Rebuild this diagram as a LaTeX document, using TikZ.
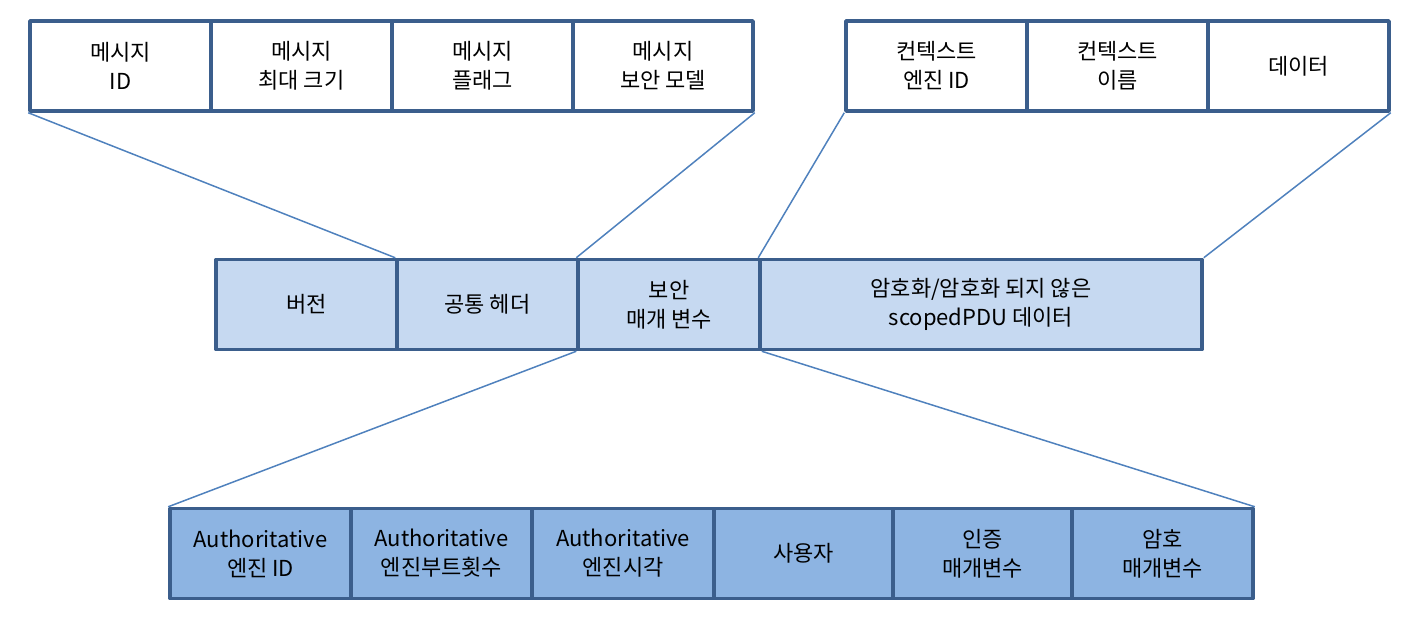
\documentclass[tikz,border=0pt]{standalone}
\usepackage{fontspec}
\setmainfont{Noto Sans CJK KR}
\definecolor{bord}{HTML}{3B5E8C}
\definecolor{conn}{HTML}{4F81BD}
\definecolor{midfill}{HTML}{C6D9F1}
\definecolor{botfill}{HTML}{8DB4E2}
\begin{document}
\begin{tikzpicture}[x=1pt,y=-1pt,
  fbox/.style={draw=bord, line width=3.5pt, minimum height=90pt, inner sep=0pt, align=center,
    font=\fontsize{22}{29}\selectfont, line join=round},
  topbox/.style={fbox, fill=white},
  midbox/.style={fbox, fill=midfill},
  botbox/.style={fbox, fill=botfill},
  conline/.style={draw=conn, line width=1.5pt}]
\useasboundingbox (0,0) rectangle (1411,633);
% top-left group
\node[topbox, minimum width=181pt] (t1) at (120.5,66) {메시지\\ID};
\node[topbox, minimum width=181pt] (t2) at (301.5,66) {메시지\\최대 크기};
\node[topbox, minimum width=181pt] (t3) at (482.5,66) {메시지\\플래그};
\node[topbox, minimum width=180pt] (t4) at (663,66) {메시지\\보안 모델};
% top-right group
\node[topbox, minimum width=181pt] (r1) at (936.5,66) {컨텍스트\\엔진 ID};
\node[topbox, minimum width=181pt] (r2) at (1117.5,66) {컨텍스트\\이름};
\node[topbox, minimum width=181pt] (r3) at (1298.5,66) {데이터};
% middle row
\node[midbox, minimum width=181pt] (m1) at (306.5,304.5) {버전};
\node[midbox, minimum width=181pt] (m2) at (487.5,304.5) {공통 헤더};
\node[midbox, minimum width=182pt] (m3) at (669,304.5) {보안\\매개 변수};
\node[midbox, minimum width=442pt] (m4) at (981,304.5) {암호화/암호화 되지 않은\\scopedPDU 데이터};
% bottom row
\node[botbox, minimum width=181pt] (b1) at (260.5,553.5) {Authoritative\\엔진 ID};
\node[botbox, minimum width=181pt] (b2) at (441.5,553.5) {Authoritative\\엔진부트횟수};
\node[botbox, minimum width=182pt] (b3) at (623,553.5) {Authoritative\\엔진시각};
\node[botbox, minimum width=179pt] (b4) at (803.5,553.5) {사용자};
\node[botbox, minimum width=179pt] (b5) at (982.5,553.5) {인증\\매개변수};
\node[botbox, minimum width=181pt] (b6) at (1162.5,553.5) {암호\\매개변수};
% connector lines
\draw[conline] (t1.south west) -- (m2.north west);
\draw[conline] (t4.south east) -- (m3.north west);
\draw[conline] (r1.south west) -- (m4.north west);
\draw[conline] (r3.south east) -- (m4.north east);
\draw[conline] (m3.south west) -- (b1.north west);
\draw[conline] (m3.south east) -- (b6.north east);
\end{tikzpicture}
\end{document}
